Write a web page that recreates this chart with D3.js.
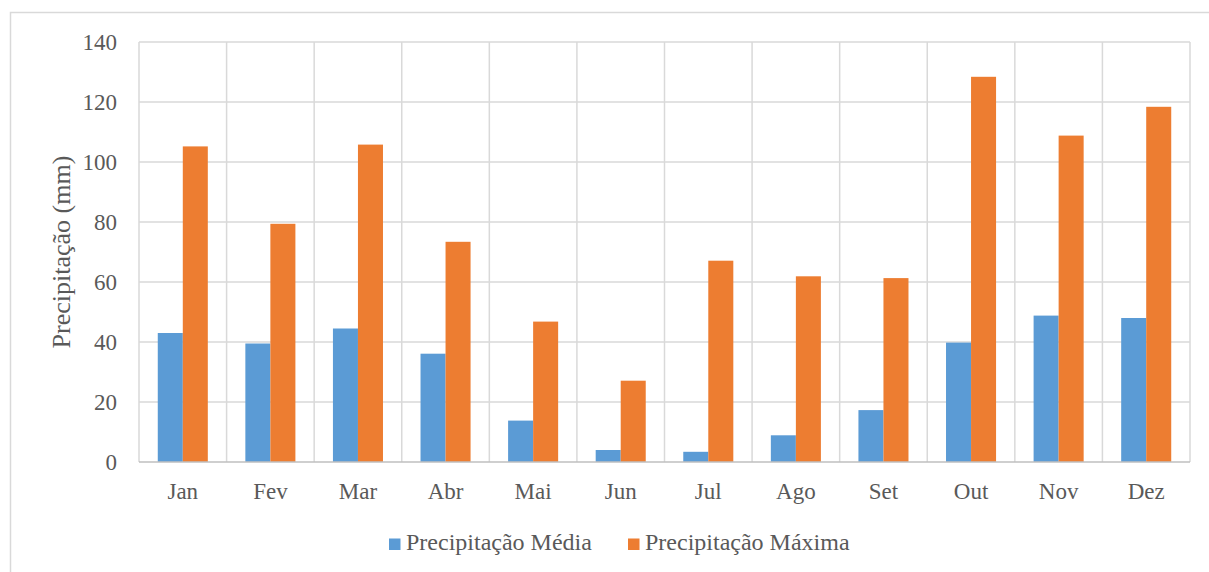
<!DOCTYPE html>
<html lang="pt">
<head>
<meta charset="UTF-8">
<title>Precipitação</title>
<script src="https://d3js.org/d3.v7.min.js"></script>
<style>
  body { margin: 0; background: #fff; }
</style>
</head>
<body>
<svg width="1209" height="572"></svg>
<script>
// dados
const meses = ["Jan", "Fev", "Mar", "Abr", "Mai", "Jun", "Jul", "Ago", "Set", "Out", "Nov", "Dez"];
const precMedia = [43.0, 39.5, 44.5, 36.1, 13.8, 4.0, 3.4, 8.9, 17.3, 39.8, 48.8, 48.0];
const precMaxima = [105.2, 79.4, 105.8, 73.4, 46.8, 27.1, 67.1, 61.9, 61.3, 128.4, 108.8, 118.4];
const series = ["Precipitação Média", "Precipitação Máxima"];
const yTicks = [0, 20, 40, 60, 80, 100, 120, 140];
const cores = ["#5B9BD5", "#ED7D31"];

const fonte = "'Liberation Serif', 'Times New Roman', serif";
const svg = d3.select("svg");

// moldura do gráfico
svg.append("rect")
    .attr("x", 10.5).attr("y", 12.5)
    .attr("width", 1210).attr("height", 580)
    .attr("fill", "none").attr("stroke", "#d9d9d9").attr("stroke-width", 1.5);

const margin = { top: 42, right: 19, bottom: 110, left: 139 };
const width = 1209 - margin.left - margin.right,
      height = 572 - margin.top - margin.bottom;

const g = svg.append("g").attr("transform", `translate(${margin.left},${margin.top})`);

const x = d3.scaleBand().domain(meses).range([0, width]).paddingInner(0).paddingOuter(0);
const xInner = d3.scaleBand().domain(series).range([x.bandwidth() * 0.2143, x.bandwidth() * 0.7857]);
const y = d3.scaleLinear().domain([0, 140]).range([height, 0]);

// linhas de grade horizontais
g.append("g")
    .selectAll("line").data(yTicks.slice(1)).enter().append("line")
    .attr("x1", 0).attr("x2", width)
    .attr("y1", d => y(d)).attr("y2", d => y(d))
    .attr("stroke", "#d9d9d9").attr("stroke-width", 1.5);

// linhas de grade verticais
const bordas = meses.map(m => x(m)).concat([width]);
g.append("g")
    .selectAll("line").data(bordas).enter().append("line")
    .attr("x1", d => d).attr("x2", d => d)
    .attr("y1", 0).attr("y2", height)
    .attr("stroke", "#d9d9d9").attr("stroke-width", 1.5);

// barras
const dados = meses.map((m, i) => ({ mes: m, valores: [precMedia[i], precMaxima[i]] }));
const grupos = g.selectAll(".grupo").data(dados).enter().append("g")
    .attr("class", "grupo")
    .attr("transform", d => `translate(${x(d.mes)},0)`);

grupos.selectAll("rect")
    .data(d => d.valores.map((v, j) => ({ serie: series[j], v: v, j: j })))
    .enter().append("rect")
    .attr("x", d => xInner(d.serie))
    .attr("width", xInner.bandwidth())
    .attr("y", d => y(d.v))
    .attr("height", d => height - y(d.v))
    .attr("fill", d => cores[d.j]);

// eixo x (linha)
g.append("line")
    .attr("x1", 0).attr("x2", width)
    .attr("y1", height).attr("y2", height)
    .attr("stroke", "#bfbfbf").attr("stroke-width", 1.5);

// eixo y
const yAxis = g.append("g").call(d3.axisLeft(y).tickValues(yTicks).tickSize(0).tickPadding(22));
yAxis.attr("font-family", null).attr("font-size", null);
yAxis.select(".domain").remove();
yAxis.selectAll("text").style("font-family", fonte).style("font-size", "23px").attr("fill", "#595959");

// eixo x
const xAxis = g.append("g").attr("transform", `translate(0,${height})`)
    .call(d3.axisBottom(x).tickSize(0).tickPadding(20.5));
xAxis.attr("font-family", null).attr("font-size", null);
xAxis.select(".domain").remove();
xAxis.selectAll("text").style("font-family", fonte).style("font-size", "23px").attr("fill", "#595959");

// título eixo y
svg.append("text")
    .attr("transform", `translate(70,${margin.top + height / 2}) rotate(-90)`)
    .attr("text-anchor", "middle")
    .style("font-family", fonte)
    .style("font-size", "26px")
    .attr("fill", "#595959")
    .text("Precipitação (mm)");

// legenda
const legenda = svg.append("g").attr("transform", "translate(389,550)");
const posLeg = [0, 239];
series.forEach((s, i) => {
    const item = legenda.append("g").attr("transform", `translate(${posLeg[i]},0)`);
    item.append("rect").attr("x", 0).attr("y", -11.5).attr("width", 11.5).attr("height", 11.5).attr("fill", cores[i]);
    item.append("text").attr("x", 17).attr("y", 0)
        .style("font-family", fonte).style("font-size", "24px")
        .attr("fill", "#595959").text(s);
});
</script>
</body>
</html>
